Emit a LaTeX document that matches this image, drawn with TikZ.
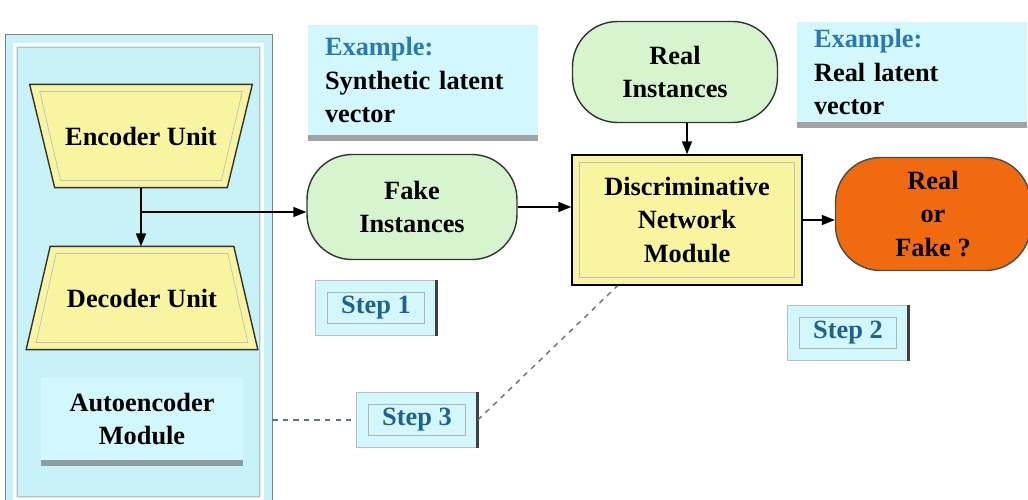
\documentclass[tikz,border=0pt]{standalone}
\usepackage{fontspec}
\setmainfont{Liberation Serif}
\usetikzlibrary{arrows.meta,shadows,calc,backgrounds}

\definecolor{panelcyan}{RGB}{200,242,248}
\definecolor{notecyan}{RGB}{210,247,252}
\definecolor{unityellow}{RGB}{248,244,160}
\definecolor{instgreen}{RGB}{214,245,206}
\definecolor{verdictorange}{RGB}{240,106,16}
\definecolor{stepblue}{RGB}{32,98,138}
\definecolor{exblue}{RGB}{42,122,176}
\definecolor{linkgray}{RGB}{96,116,132}

\tikzset{
  lbl/.style={font=\fontsize{15}{19}\selectfont\bfseries, align=center},
  unit/.style={lbl, minimum height=2.05cm},
  unitshape/.style={draw=black!80, thick, fill=unityellow},
  inst/.style={lbl, draw=black!80, thick, fill=instgreen, rounded corners=0.9cm},
  note/.style={lbl, align=left, fill=notecyan, inner xsep=0.34cm,
    drop shadow={shadow xshift=0pt, shadow yshift=-0.12cm, opacity=0.6, fill=black!60}},
  stepbox/.style={lbl, text=stepblue, fill=notecyan, draw=black!25,
    minimum width=2.42cm, minimum height=1.1cm},
  link/.style={dashed, linkgray, thick},
  flow/.style={-{Triangle[length=2.6mm,width=2mm]}, thick},
}

\begin{document}
\begin{tikzpicture}[x=0.02cm, y=-0.02cm]

  \useasboundingbox (0,0) rectangle (1028,500);

  % autoencoder side
  \node[unit, minimum width=4.44cm] (enc) at (141,136) {Encoder Unit};
  \node[unit, minimum width=4.62cm] (dec) at (142,298) {Decoder Unit};
  \node[note, align=center, minimum width=4.06cm, minimum height=1.64cm] (auto) at (142,419) {Autoencoder\\Module};

  \begin{scope}[on background layer]
    \node[draw=black!50, fill=panelcyan, minimum width=5.34cm, minimum height=9.5cm] (panel) at (138.5,272) {};
    \draw[white, line width=1.5pt] ([xshift=0.2cm,yshift=-0.2cm]panel.north west) rectangle ([xshift=-0.2cm,yshift=0.2cm]panel.south east);
    \draw[black!25] ([xshift=0.26cm,yshift=-0.26cm]panel.north west) rectangle ([xshift=-0.26cm,yshift=0.26cm]panel.south east);
    \draw[unitshape] (enc.north west) -- (enc.north east) -- ([xshift=-0.5cm]enc.south east) -- ([xshift=0.5cm]enc.south west) -- cycle;
    \draw[black!25] ([xshift=0.2cm,yshift=-0.14cm]enc.north west) -- ([xshift=-0.2cm,yshift=-0.14cm]enc.north east)
      -- ([xshift=-0.62cm,yshift=0.14cm]enc.south east) -- ([xshift=0.62cm,yshift=0.14cm]enc.south west) -- cycle;
    \draw[unitshape] ([xshift=0.48cm]dec.north west) -- ([xshift=-0.48cm]dec.north east) -- (dec.south east) -- (dec.south west) -- cycle;
    \draw[black!25] ([xshift=0.6cm,yshift=-0.14cm]dec.north west) -- ([xshift=-0.6cm,yshift=-0.14cm]dec.north east)
      -- ([xshift=-0.2cm,yshift=0.14cm]dec.south east) -- ([xshift=0.2cm,yshift=0.14cm]dec.south west) -- cycle;
  \end{scope}

  % generated and real samples
  \node[note, text width=3.92cm, minimum height=2.2cm] (ex1) at (423,80) {\textcolor{exblue}{Example:}\\Synthetic latent\\vector};
  \node[inst, minimum width=4.2cm, minimum height=2.1cm] (fake) at (412,207) {Fake\\Instances};
  \node[inst, minimum width=4.1cm, minimum height=2.02cm] (real) at (675,72) {Real\\Instances};
  \node[note, text width=3.92cm, minimum height=2.02cm] (ex2) at (912,72) {\textcolor{exblue}{Example:}\\Real latent\\vector};

  % discriminator and verdict
  \node[lbl, draw=black, thick, fill=unityellow, minimum width=4.6cm, minimum height=2.6cm] (disc) at (687,220) {Discriminative\\Network\\Module};
  \draw[black!25] ([xshift=0.16cm,yshift=-0.16cm]disc.north west) rectangle ([xshift=-0.16cm,yshift=0.16cm]disc.south east);
  \node[lbl, draw=black!70, thick, fill=verdictorange, rounded corners=0.9cm, minimum width=3.9cm, minimum height=2.26cm] (rof) at (933,214) {Real\\or\\Fake ?};

  % steps
  \node[stepbox] (step1) at (376,308) {Step 1};
  \node[stepbox] (step2) at (848,333) {Step 2};
  \node[stepbox] (step3) at (417,420) {Step 3};
  \foreach \s in {step1,step2,step3} {
    \draw[black!75, line width=1.6pt] (\s.north east) -- (\s.south east);
    \draw[black!30] ([xshift=0.24cm,yshift=-0.25cm]\s.north west) rectangle ([xshift=-0.24cm,yshift=0.24cm]\s.south east);
  }

  % connectors
  \coordinate (split) at (141,212);
  \draw[flow] (enc.south) -- (enc.south |- dec.north);
  \draw[flow] (split) -- (split -| fake.west);
  \draw[flow] (fake.east) -- (fake.east -| disc.west);
  \draw[flow] (real.south -| disc.north) -- (disc.north);
  \draw[flow] (disc.east) -- (disc.east -| rof.west);

  \draw[link] (panel.east |- step3.west) -- (step3.west);
  \draw[link] (step3.east) -- ($(disc.south west)!0.2!(disc.south east)$);

\end{tikzpicture}
\end{document}
